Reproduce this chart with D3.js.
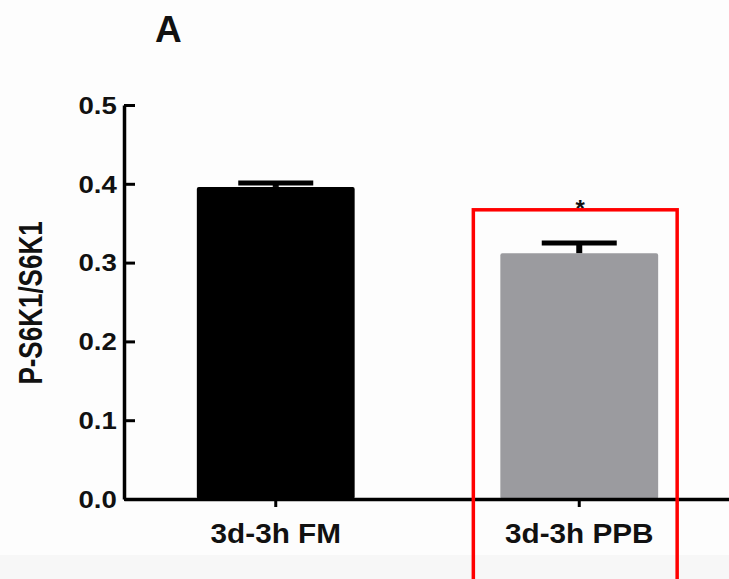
<!DOCTYPE html>
<html>
<head>
<meta charset="utf-8">
<script src="https://cdn.jsdelivr.net/npm/d3@7"></script>
<style>
  body { margin: 0; background: #fdfdfd; }
  svg { display: block; }
</style>
</head>
<body>
<div id="chart"></div>
<script>
const categories = ["3d-3h FM", "3d-3h PPB"];
const means = [0.396, 0.312];
const sems = [0.005, 0.013];
const barColors = ["#000000", "#9b9b9f"];
const sigMarks = ["", "*"];
const yTicks = [0, 0.1, 0.2, 0.3, 0.4, 0.5];
const panelLabel = "A";
const yTitle = "P-S6K1/S6K1";
const highlighted = "3d-3h PPB";

const width = 729;
const height = 579;
const margin = { top: 105, right: -2, bottom: 80, left: 124 };
const font = "'Liberation Sans', Arial, sans-serif";

const data = categories.map((c, i) => ({ cat: c, mean: means[i], sem: sems[i], color: barColors[i], sig: sigMarks[i] }));

const svg = d3.select("#chart")
  .append("svg")
  .attr("width", width)
  .attr("height", height);

// background, slightly grey band at the bottom
svg.append("rect").attr("width", width).attr("height", height).attr("fill", "#fdfdfd");
svg.append("rect").attr("y", 555).attr("width", width).attr("height", height - 555).attr("fill", "#f7f7f7");

const x = d3.scaleBand()
  .domain(categories)
  .range([margin.left, width - margin.right])
  .paddingInner(0.48)
  .paddingOuter(0.24);

const y = d3.scaleLinear()
  .domain([0, 0.5])
  .range([height - margin.bottom, margin.top]);

// bars
svg.selectAll(".bar")
  .data(data)
  .join("rect")
  .attr("class", "bar")
  .attr("x", d => x(d.cat))
  .attr("y", d => y(d.mean))
  .attr("width", x.bandwidth())
  .attr("height", d => y(0) - y(d.mean))
  .attr("rx", 2)
  .attr("fill", d => d.color);

// error bars (upper only)
const capW = 75;
svg.selectAll(".err-stem")
  .data(data)
  .join("line")
  .attr("x1", d => x(d.cat) + x.bandwidth() / 2)
  .attr("x2", d => x(d.cat) + x.bandwidth() / 2)
  .attr("y1", d => y(d.mean))
  .attr("y2", d => y(d.mean + d.sem))
  .attr("stroke", "#000")
  .attr("stroke-width", 6);

svg.selectAll(".err-cap")
  .data(data)
  .join("line")
  .attr("x1", d => x(d.cat) + x.bandwidth() / 2 - capW / 2)
  .attr("x2", d => x(d.cat) + x.bandwidth() / 2 + capW / 2)
  .attr("y1", d => y(d.mean + d.sem))
  .attr("y2", d => y(d.mean + d.sem))
  .attr("stroke", "#000")
  .attr("stroke-width", 5);

// significance star
svg.selectAll(".sig")
  .data(data.filter(d => d.sig))
  .join("text")
  .attr("x", d => x(d.cat) + x.bandwidth() / 2 + 1)
  .attr("y", d => y(d.mean + d.sem) - 26)
  .attr("text-anchor", "middle")
  .style("font-family", font)
  .style("font-weight", "bold")
  .style("font-size", "24px")
  .attr("fill", "#111")
  .text(d => d.sig);

// y axis, ticks pointing inward
const yAxis = svg.append("g")
  .attr("transform", `translate(${margin.left},0)`)
  .call(d3.axisLeft(y).tickValues(yTicks).tickFormat(d3.format(".1f"))
    .tickSizeInner(-11).tickSizeOuter(0).tickPadding(6));
yAxis.select(".domain").attr("stroke", "#000").attr("stroke-width", 3.5);
yAxis.selectAll(".tick line").attr("stroke", "#000").attr("stroke-width", 3);
yAxis.selectAll(".tick text")
  .attr("x", -6)
  .attr("dy", "0.36em")
  .attr("transform", "scale(1.2,1)")
  .style("font-family", font)
  .style("font-weight", "bold")
  .style("font-size", "23px")
  .attr("fill", "#111");

// x axis
const xAxis = svg.append("g")
  .attr("transform", `translate(0,${y(0)})`)
  .call(d3.axisBottom(x).tickSizeInner(8).tickSizeOuter(0));
xAxis.select(".domain").attr("stroke", "#000").attr("stroke-width", 3.5);
xAxis.selectAll(".tick line").attr("stroke", "#000").attr("stroke-width", 3);
xAxis.selectAll(".tick text")
  .attr("y", 44)
  .attr("dy", null)
  .attr("transform", "scale(1.1,1)")
  .style("font-family", font)
  .style("font-weight", "bold")
  .style("font-size", "27px")
  .attr("fill", "#111");

// y axis title
svg.append("text")
  .attr("transform", `translate(30,${(y(0) + y(0.5)) / 2 + 1}) scale(1.26,1) rotate(-90)`)
  .attr("text-anchor", "middle")
  .attr("dominant-baseline", "central")
  .style("font-family", font)
  .style("font-weight", "bold")
  .style("font-size", "26px")
  .attr("fill", "#111")
  .text(yTitle);

// panel label
svg.append("text")
  .attr("x", 155)
  .attr("y", 42)
  .style("font-family", font)
  .style("font-weight", "bold")
  .style("font-size", "37px")
  .attr("fill", "#111")
  .text(panelLabel);

// red highlight box around the PPB bar
svg.append("rect")
  .attr("x", x(highlighted) - 27)
  .attr("y", y(0.367))
  .attr("width", x.bandwidth() + 46)
  .attr("height", height)
  .attr("fill", "none")
  .attr("stroke", "#ff0000")
  .attr("stroke-width", 3.5);
</script>
</body>
</html>
